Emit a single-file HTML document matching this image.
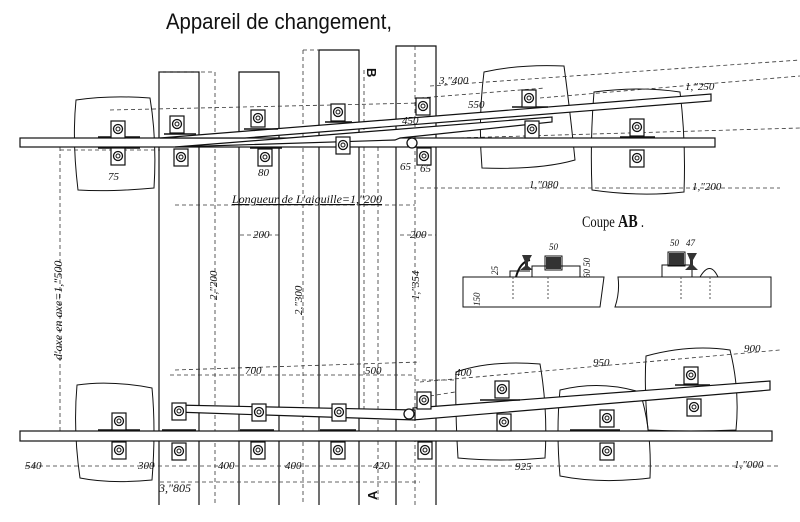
<!DOCTYPE html>
<html><head><meta charset="utf-8"><style>
html,body{margin:0;padding:0;background:#fff;}
svg{display:block}
text{font-family:"Liberation Serif",serif;font-style:italic;fill:#111}
.t{font-style:normal;font-family:"Liberation Sans",sans-serif}
</style></head><body>
<svg width="800" height="522" viewBox="0 0 800 522" xmlns="http://www.w3.org/2000/svg">
<defs>
<g id="ch"><rect x="0" y="0" width="14" height="17" fill="#fff" stroke="#111" stroke-width="1.2"/><circle cx="7" cy="8" r="4.5" fill="none" stroke="#111" stroke-width="1.3"/><circle cx="7" cy="8" r="2" fill="none" stroke="#111"/></g>
</defs>
<rect width="800" height="522" fill="#fff"/>
<text class="t" x="166" y="29" font-size="22" font-weight="normal" textLength="226" lengthAdjust="spacingAndGlyphs" style="font-family:'Liberation Sans Narrow','Liberation Sans',sans-serif" fill="#222">Appareil  de  changement,</text>

<g fill="none" stroke="#111" stroke-width="1">
<path d="M76 100 Q110 95 150 98 Q157 140 154 188 Q110 192 78 190 Q72 140 76 100Z"/>
<path d="M484 72 Q520 64 564 66 Q570 110 575 160 Q540 170 482 168 Q478 120 484 72Z"/>
<path d="M594 92 Q640 86 680 92 Q686 140 684 192 Q640 197 592 190 Q590 140 594 92Z"/>
<path d="M77 385 Q110 380 152 388 Q156 430 152 480 Q110 484 80 478 Q73 430 77 385Z"/>
<path d="M456 372 Q490 360 540 364 Q548 410 545 458 Q500 462 458 458 Q455 410 456 372Z"/>
<path d="M560 390 Q600 380 640 392 Q652 430 650 478 Q600 484 560 476 Q556 430 560 390Z"/>
<path d="M646 356 Q690 344 730 350 Q740 390 736 430 Q690 432 648 430 Q644 390 646 356Z"/>
<path d="M159 505 V72 H199 V505 M239 505 V72 H279 V505 M319 505 V50 H359 V505 M396 505 V46 H436 V505" stroke-width="1.2"/>
</g>
<g fill="none" stroke="#333" stroke-width="0.8" stroke-dasharray="4,3">
<path d="M215 72 V505 M303 50 V505 M415 46 V505 M60 140 V440 M159 72 H215 M303 50 H319 M364 70 V420 M378 140 V500"/>
<path d="M160 482 H420 M25 466 H780 M25 438 H400 M60 150 H160 M175 205 H415 M240 235 H279 M400 235 H436 M170 375 H415 M415 380 H455"/>
<path d="M110 110 L420 103 M215 145 L800 128 M420 98 L545 88 M430 86 L800 60 M540 98 L800 76 M420 188 L780 188 M175 370 L420 362 M420 382 L780 350 M430 396 L455 392"/>
</g>
<g fill="#fff" stroke="#111" stroke-width="1.2">
<rect x="20" y="138" width="695" height="9"/>
<polygon points="160,138 711,94 711,101 245,138"/>
<polygon points="175,147 552,117 552,122 400,138 395,140"/>
<rect x="20" y="431" width="752" height="10"/>
<polygon points="413,408 770,381 770,390 413,420"/>
<path d="M175 405 L415 410 L415 420 Q300 416 175 412Z"/>
</g>
<g stroke="#111" stroke-width="1.5">
<path d="M98 137 H140 M164 134 H196 M244 129 H278 M325 122 H352 M512 107 H548 M620 137 H655 M98 148 H140 M250 148 H282 M660 150 H..."/>
<path d="M98 430 H140 M162 430 H196 M240 430 H274 M320 430 H356 M570 430 H620 M480 400 H520 M675 385 H710"/>
</g>
<g>
<use href="#ch" x="111" y="121"/><use href="#ch" x="170" y="116"/><use href="#ch" x="251" y="110"/><use href="#ch" x="331" y="104"/><use href="#ch" x="416" y="98"/><use href="#ch" x="522" y="90"/><use href="#ch" x="630" y="119"/><use href="#ch" x="525" y="121"/>
<use href="#ch" x="111" y="148"/><use href="#ch" x="174" y="149"/><use href="#ch" x="258" y="149"/><use href="#ch" x="336" y="137"/><use href="#ch" x="417" y="148"/><use href="#ch" x="630" y="150"/>
<use href="#ch" x="112" y="413"/><use href="#ch" x="172" y="403"/><use href="#ch" x="252" y="404"/><use href="#ch" x="332" y="404"/><use href="#ch" x="417" y="392"/><use href="#ch" x="495" y="381"/><use href="#ch" x="497" y="414"/><use href="#ch" x="600" y="410"/><use href="#ch" x="684" y="367"/><use href="#ch" x="687" y="399"/>
<use href="#ch" x="112" y="442"/><use href="#ch" x="172" y="443"/><use href="#ch" x="251" y="442"/><use href="#ch" x="331" y="442"/><use href="#ch" x="418" y="442"/><use href="#ch" x="600" y="443"/>
</g>
<circle cx="412" cy="143" r="5" fill="#fff" stroke="#111" stroke-width="1.3"/>
<circle cx="409" cy="414" r="5" fill="#fff" stroke="#111" stroke-width="1.3"/>
<text class="t" x="367" y="68" font-size="13" font-weight="bold" transform="rotate(90 367 68)">B</text>
<text class="t" x="377" y="500" font-size="13" font-weight="bold" transform="rotate(-90 377 500)">A</text>
<g font-size="11">
<text x="439" y="84">3,"400</text><text x="468" y="108">550</text><text x="402" y="124">450</text>
<text x="685" y="90">1,"250</text><text x="529" y="188">1,"080</text><text x="692" y="190">1,"200</text>
<text x="108" y="180">75</text><text x="258" y="176">80</text><text x="400" y="170">65</text><text x="420" y="172">65</text>
<text x="232" y="203" font-size="12" text-decoration="underline">Longueur de L'aiguille=1,"200</text>
<text x="253" y="238">200</text><text x="410" y="238">200</text>
<text x="217" y="300" transform="rotate(-90 217 300)">2,"200</text>
<text x="302" y="315" transform="rotate(-90 302 315)">2,"300</text>
<text x="419" y="300" transform="rotate(-90 419 300)">1,"354</text>
<text x="62" y="360" font-size="12" transform="rotate(-90 62 360)">d'axe en axe=1,"500</text>
<text x="245" y="374">700</text><text x="365" y="374">500</text>
<text x="455" y="376">400</text><text x="593" y="366">950</text><text x="744" y="352">900</text>
<text x="25" y="469">540</text><text x="138" y="469">300</text><text x="218" y="469">400</text><text x="285" y="469">400</text><text x="373" y="469">420</text>
<text x="515" y="470">925</text><text x="734" y="468">1,"000</text>
<text x="159" y="492" font-size="12">3,"805</text>
</g>
<text x="582" y="227" font-size="16" style="font-style:normal" textLength="62" lengthAdjust="spacingAndGlyphs">Coupe <tspan font-weight="bold" font-size="18">AB</tspan> .</text>
<g fill="none" stroke="#111" stroke-width="1">
<path d="M463 277 H604 L600 307 H463Z"/>
<path d="M618 277 H771 V307 H615 Q620 292 618 277Z"/>
<rect x="545" y="256" width="17" height="14"/><rect x="532" y="266" width="48" height="11"/>
<rect x="668" y="252" width="17" height="14"/><rect x="662" y="265" width="30" height="12"/>
<path d="M510 277 V271 H530 M700 277 Q710 260 718 277"/>
<path d="M516 277 Q520 262 530 260" stroke-width="2"/>
</g>
<g fill="#333"><rect x="546" y="257" width="15" height="12"/><rect x="669" y="253" width="15" height="12"/>
<path d="M522 255 H532 L528 262 V266 L533 270 H520 L525 266 V262Z"/><path d="M687 253 H697 L693 260 V265 L698 270 H685 L690 265 V260Z"/></g>
<g stroke="#555" stroke-width="1" stroke-dasharray="2,2"><path d="M548 277 V300 M513 277 V300 M681 277 V300 M710 277 V300"/></g>
<g font-size="9"><text x="549" y="250">50</text><text x="670" y="246">50</text><text x="686" y="246">47</text>
<text x="590" y="278" transform="rotate(-90 590 278)">60 50</text><text x="480" y="306" transform="rotate(-90 480 306)">150</text><text x="498" y="275" transform="rotate(-90 498 275)">25</text></g>
</svg>
</body></html>
